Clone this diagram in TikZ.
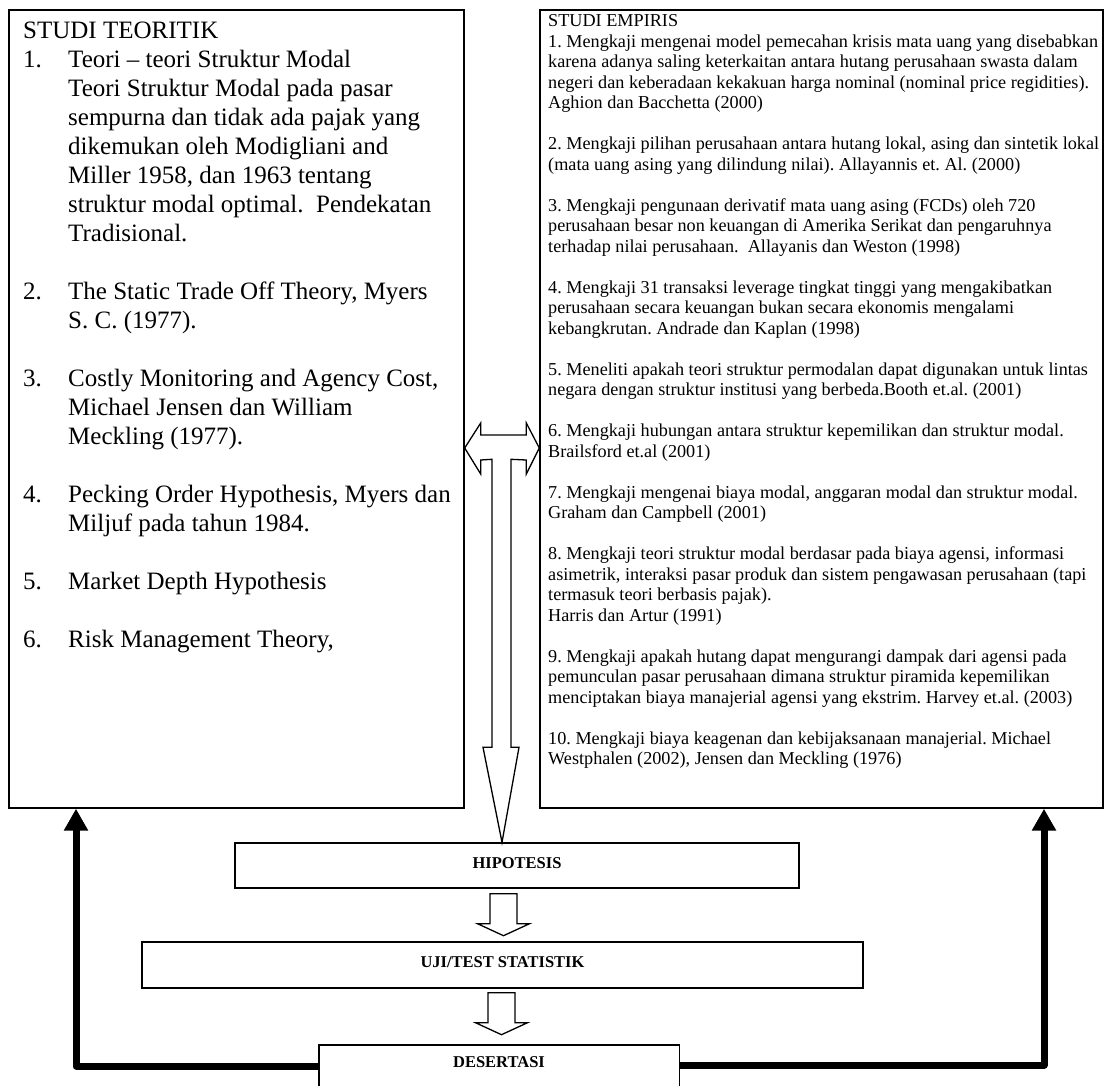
\documentclass[tikz,border=0pt]{standalone}
\usepackage{fontspec}
\setmainfont{Liberation Serif}
\usetikzlibrary{calc,arrows.meta}
\begin{document}
\frenchspacing
\begin{tikzpicture}[x=1pt,y=-1pt,
  frame/.style={draw, line width=1.4pt, rectangle, inner sep=0pt},
  stage/.style={frame, font=\bfseries\fontsize{16.5}{20}\selectfont},
  hollow/.style={draw, line width=1.3pt, fill=white, line join=miter},
  feedback/.style={line width=7pt, line join=round, -{Triangle[width=23pt,length=22pt]}},
  pics/hollowdown/.style={code={
    \draw[hollow] (-13.5,0) -- (13.5,0) -- (13.5,30) -- (26,30) -- (0,42)
      -- (-26,30) -- (-13.5,30) -- cycle;}}
]
\fill[white] (0,0) rectangle (1105,1086);
\clip (0,0) rectangle (1105,1086);

% two study boxes
\node[frame, minimum width=455pt, minimum height=798pt] (teori) at (236.5,409) {};
\node[frame, minimum width=563pt, minimum height=798pt] (empiris) at (821.5,409) {};

% theoretical studies
\node[anchor=base west, inner sep=0pt, font=\fontsize{25}{29}\selectfont] (teoritext) at (23,39) {%
\begin{tabular}[t]{@{}p{45pt}@{}l@{}}
\multicolumn{2}{@{}l@{}}{STUDI TEORITIK}\\
1. & Teori -- teori Struktur Modal\\
   & Teori Struktur Modal pada pasar\\
   & sempurna dan tidak ada pajak yang\\
   & dikemukan oleh Modigliani and\\
   & Miller 1958, dan 1963 tentang\\
   & struktur modal optimal.\ \ Pendekatan\\
   & Tradisional.\\
   & \\
2. & The Static Trade Off Theory, Myers\\
   & S. C. (1977).\\
   & \\
3. & Costly Monitoring and Agency Cost,\\
   & Michael Jensen dan William\\
   & Meckling (1977).\\
   & \\
4. & Pecking Order Hypothesis, Myers dan\\
   & Miljuf pada tahun 1984.\\
   & \\
5. & Market Depth Hypothesis\\
   & \\
6. & Risk Management Theory,
\end{tabular}};

% empirical studies
\node[anchor=base west, inner sep=0pt, font=\fontsize{18.2}{20.5}\selectfont] (empiristext) at (548,27) {%
\begin{tabular}[t]{@{}l@{}}
STUDI EMPIRIS\\
1. Mengkaji mengenai model pemecahan krisis mata uang yang disebabkan\\
karena adanya saling keterkaitan antara hutang perusahaan swasta dalam\\
negeri dan keberadaan kekakuan harga nominal (nominal price regidities).\\
Aghion dan Bacchetta (2000)\\
\\
2. Mengkaji pilihan perusahaan antara hutang lokal, asing dan sintetik lokal\\
(mata uang asing yang dilindung nilai). Allayannis et. Al. (2000)\\
\\
3. Mengkaji pengunaan derivatif mata uang asing (FCDs) oleh 720\\
perusahaan besar non keuangan di Amerika Serikat dan pengaruhnya\\
terhadap nilai perusahaan.\ \ Allayanis dan Weston (1998)\\
\\
4. Mengkaji 31 transaksi leverage tingkat tinggi yang mengakibatkan\\
perusahaan secara keuangan bukan secara ekonomis mengalami\\
kebangkrutan. Andrade dan Kaplan (1998)\\
\\
5. Meneliti apakah teori struktur permodalan dapat digunakan untuk lintas\\
negara dengan struktur institusi yang berbeda.Booth et.al. (2001)\\
\\
6. Mengkaji hubungan antara struktur kepemilikan dan struktur modal.\\
Brailsford et.al (2001)\\
\\
7. Mengkaji mengenai biaya modal, anggaran modal dan struktur modal.\\
Graham dan Campbell (2001)\\
\\
8. Mengkaji teori struktur modal berdasar pada biaya agensi, informasi\\
asimetrik, interaksi pasar produk dan sistem pengawasan perusahaan (tapi\\
termasuk teori berbasis pajak).\\
Harris dan Artur (1991)\\
\\
9. Mengkaji apakah hutang dapat mengurangi dampak dari agensi pada\\
pemunculan pasar perusahaan dimana struktur piramida kepemilikan\\
menciptakan biaya manajerial agensi yang ekstrim. Harvey et.al. (2003)\\
\\
10. Mengkaji biaya keagenan dan kebijaksanaan manajerial. Michael\\
Westphalen (2002), Jensen dan Meckling (1976)
\end{tabular}};

% research stages
\node[stage, minimum width=564pt, minimum height=45pt] (hipo) at (517,865.5) {\raisebox{5pt}{HIPOTESIS}};
\node[stage, minimum width=721pt, minimum height=46pt] (uji) at (502.5,965) {\raisebox{5.5pt}{UJI/TEST STATISTIK}};
\node[inner sep=0pt, minimum width=360pt, minimum height=34pt, font=\bfseries\fontsize{16.5}{20}\selectfont] (des) at (499,1062) {DESERTASI};
\draw[line width=1.4pt] ([yshift=-30pt]des.south west) -- (des.north west) -- (des.north east) -- ([yshift=-30pt]des.south east);

% double arrow between the studies, merging into the arrow to the hypothesis
\coordinate (Lt) at ([yshift=-39pt]teori.east);
\coordinate (Rt) at ([yshift=-39pt]empiris.west);
\coordinate (Vt) at ([xshift=-15pt]hipo.north);
\draw[hollow] (Lt) -- ($(Lt)+(16,-25)$) -- ($(Lt)+(16,-13)$) -- ($(Rt)+(-13,-13)$)
  -- ($(Rt)+(-13,-25)$) -- (Rt) -- ($(Rt)+(-13,26)$) -- ($(Rt)+(-13,12)$)
  -- ($(Vt)+(9,-383)$) -- ($(Vt)+(9,-95)$) -- ($(Vt)+(17,-95)$) -- (Vt)
  -- ($(Vt)+(-19,-95)$) -- ($(Vt)+(-10,-95)$) -- ($(Vt)+(-10,-383)$)
  -- ($(Lt)+(16,12)$) -- ($(Lt)+(16,26)$) -- cycle;

% arrows between stages
\pic at ($(hipo.south)+(-13.5,5)$) {hollowdown};
\pic at ($(uji.south)+(-1,4)$) {hollowdown};

% feedback from the dissertation to both studies
\draw[feedback] ([yshift=-4pt]des.west) -| ([xshift=-160.5pt]teori.south);
\draw[feedback] ([yshift=-3pt]des.east) -| ([xshift=222.5pt]empiris.south);
\end{tikzpicture}
\end{document}
